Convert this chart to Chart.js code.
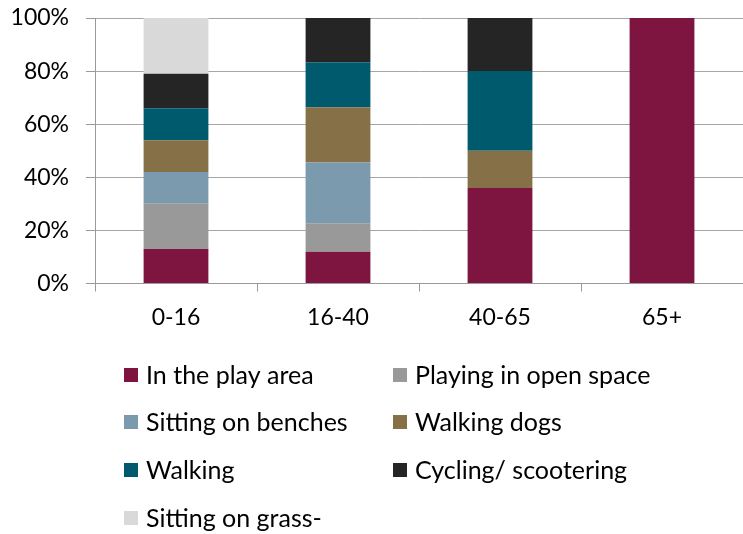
<!DOCTYPE html>
<html>
<head>
<meta charset="utf-8">
<script src="https://cdn.jsdelivr.net/npm/chart.js@4"></script>
<style>
  html, body { margin: 0; padding: 0; background: #fff; }
  #wrap { width: 743px; height: 534px; position: relative; }
</style>
</head>
<body>
<div id="wrap"><canvas id="grafico"></canvas></div>
<script>
// categorias (faixa etária)
const faixas = ["0-16", "16-40", "40-65", "65+"];

// percentuais por atividade, uma lista por série
const playArea   = [13, 12, 36, 100];
const openSpace  = [17, 10.7, 0, 0];
const benches    = [12, 22.9, 0, 0];
const dogs       = [12, 20.8, 14, 0];
const walking    = [12, 16.9, 30, 0];
const cycling    = [13, 16.7, 20, 0];
const grass      = [21, 0, 0, 0];

const nomesSeries = ["In the play area", "Playing in open space", "Sitting on benches",
  "Walking dogs", "Walking", "Cycling/ scootering", "Sitting on grass-"];
const coresSeries = ["#7E1540", "#999999", "#7B9AAE", "#857048", "#005A6E", "#252525", "#D9D9D9"];
const valoresSeries = [playArea, openSpace, benches, dogs, walking, cycling, grass];

const ticksY = [0, 20, 40, 60, 80, 100];

const fonte = "Lato, 'Open Sans', sans-serif";

// legenda em duas colunas, como no original
const legendaGrade = {
  id: "legendaGrade",
  afterDraw(chart) {
    const ctx = chart.ctx;
    const colX = [124, 393];
    const rowY = [375, 422, 470, 518];
    ctx.save();
    ctx.font = "25px " + fonte;
    ctx.textBaseline = "middle";
    chart.data.datasets.forEach((ds, i) => {
      const x = colX[i % 2];
      const y = rowY[Math.floor(i / 2)];
      ctx.fillStyle = ds.backgroundColor;
      ctx.fillRect(x, y - 7, 14, 14);
      ctx.fillStyle = "#000";
      ctx.fillText(ds.label, x + 22, y + 1);
    });
    ctx.restore();
  }
};

new Chart(document.getElementById("grafico"), {
  type: "bar",
  data: {
    labels: faixas,
    datasets: valoresSeries.map((v, i) => ({
      label: nomesSeries[i],
      data: v,
      backgroundColor: coresSeries[i],
      borderWidth: 0,
      barPercentage: 0.4,
      categoryPercentage: 1
    }))
  },
  options: {
    responsive: true,
    maintainAspectRatio: false,
    animation: false,
    layout: { padding: { top: 18, right: 0, bottom: 0, left: 0 } },
    plugins: { legend: { display: false }, tooltip: { enabled: false } },
    scales: {
      x: {
        stacked: true,
        grid: { display: true, drawOnChartArea: false, offset: true, tickLength: 8, color: "#999", tickColor: "#999" },
        border: { color: "#999" },
        ticks: { color: "#000", font: { family: fonte, size: 23 }, padding: 12 },
        afterFit(scale) { scale.height = 250.5; }
      },
      y: {
        stacked: true,
        min: 0,
        max: 100,
        afterBuildTicks(scale) { scale.ticks = ticksY.map(v => ({ value: v })); },
        grid: { color: "#A6A6A6", tickLength: 9, tickColor: "#999" },
        border: { color: "#999" },
        ticks: {
          color: "#000",
          font: { family: fonte, size: 23 },
          padding: 17,
          callback: v => v + "%"
        },
        afterFit(scale) {
          scale.width = 95;
          scale.paddingTop = 0;
          scale.paddingBottom = 0;
        }
      }
    }
  },
  plugins: [legendaGrade]
});
</script>
</body>
</html>
